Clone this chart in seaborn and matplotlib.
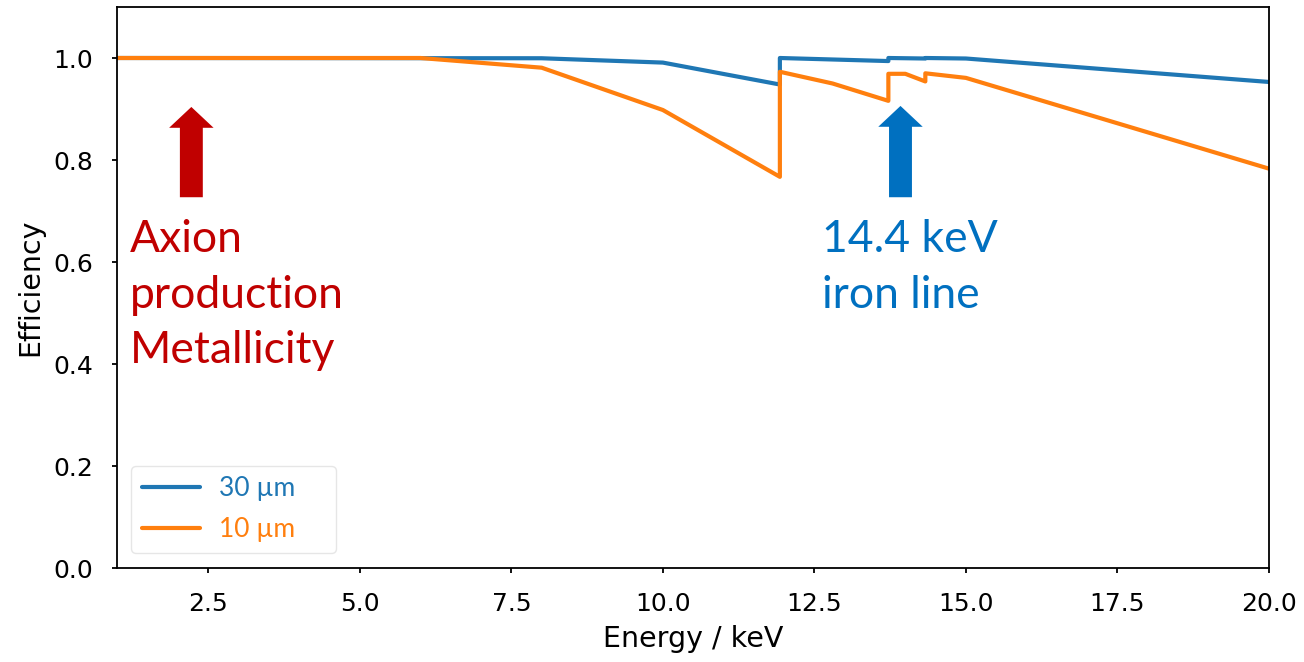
import numpy as np
import pandas as pd
import matplotlib
matplotlib.use("Agg")
import matplotlib.pyplot as plt
import seaborn as sns

# ---- data ----
energy_30 = [1.0, 8.0, 10.0, 11.93, 11.93, 13.72, 13.72, 14.33, 14.33, 15.0, 20.0]
eff_30 = [1.0, 0.9995, 0.991, 0.948, 1.0, 0.994, 1.0, 0.999, 1.0, 0.999, 0.953]

energy_10 = [1.0, 6.0, 8.0, 10.0, 11.93, 11.93, 12.8, 13.72, 13.72, 14.0, 14.33, 14.33, 15.0, 20.0]
eff_10 = [1.0, 1.0, 0.981, 0.898, 0.767, 0.973, 0.950, 0.916, 0.969, 0.969, 0.954, 0.970, 0.961, 0.783]

series_labels = ["30 µm", "10 µm"]
x_ticks = [2.5, 5.0, 7.5, 10.0, 12.5, 15.0, 17.5, 20.0]
y_ticks = [0.0, 0.2, 0.4, 0.6, 0.8, 1.0]

df = pd.concat([
    pd.DataFrame({"Energy": energy_30, "Efficiency": eff_30, "thickness": series_labels[0]}),
    pd.DataFrame({"Energy": energy_10, "Efficiency": eff_10, "thickness": series_labels[1]}),
], ignore_index=True)

sns.set_style("ticks")
plt.rcParams["font.family"] = ["DejaVu Sans"]

blue = "#1f77b4"
orange = "#ff7f0e"

fig = plt.figure(figsize=(13.04, 6.62), dpi=100)
ax = fig.add_axes([117.4 / 1304, 1 - 568 / 662, (1269 - 117.4) / 1304, (568 - 7) / 662])

sns.lineplot(data=df, x="Energy", y="Efficiency", hue="thickness",
             hue_order=series_labels, palette=[blue, orange],
             estimator=None, sort=False, linewidth=3.0, ax=ax)

ax.set_xlim(1, 20)
ax.set_ylim(0, 1.1)
ax.set_xticks(x_ticks)
ax.set_yticks(y_ticks)
ax.set_xticklabels([f"{v:.1f}" for v in x_ticks])
ax.set_yticklabels([f"{v:.1f}" for v in y_ticks])
ax.tick_params(labelsize=18, direction="out", length=3.6, width=1.3, pad=14,
               colors="black", labelcolor="black")
ax.set_xlabel("Energy / keV", fontsize=20.5, labelpad=6, color="black")
ax.set_ylabel("Efficiency", fontsize=20.5, labelpad=6, color="black")
for s in ax.spines.values():
    s.set_visible(True)
    s.set_linewidth(1.3)
    s.set_color("black")

# legend
ax_w = 1269 - 117.4
ax_h = 568 - 7
leg = ax.legend(loc="lower left",
                bbox_to_anchor=((131 - 117.4) / ax_w, (568 - 553) / ax_h, (336 - 131) / ax_w, 0.2),
                mode="expand", borderaxespad=0,
                prop={"family": "Lato", "size": 19},
                handlelength=2.2, handletextpad=0.74, labelspacing=0.62, borderpad=0.4,
                frameon=True, fancybox=True, framealpha=1.0, edgecolor="#e6e6e6", title=None)
for txt, c in zip(leg.get_texts(), [blue, orange]):
    txt.set_color(c)

red = "#C00000"
blue_txt = "#0070C0"

arrow_kw = dict(arrowstyle="simple,head_length=15,head_width=32,tail_width=16.5",
                mutation_scale=1, shrinkA=0, shrinkB=0, lw=0)
ax.annotate("", xy=(2.22, 0.904), xytext=(2.22, 0.727),
            arrowprops=dict(color=red, **arrow_kw))
ax.annotate("", xy=(13.92, 0.906), xytext=(13.92, 0.727),
            arrowprops=dict(color=blue_txt, **arrow_kw))

ax.text(1.2, 0.685, "Axion\nproduction\nMetallicity", color=red, fontsize=32,
        family="Lato", ha="left", va="top", linespacing=1.45, transform=ax.transData)
ax.text(12.63, 0.685, "14.4 keV\niron line", color=blue_txt, fontsize=32,
        family="Lato", ha="left", va="top", linespacing=1.45, transform=ax.transData)

fig.savefig("out.png", dpi=100)
